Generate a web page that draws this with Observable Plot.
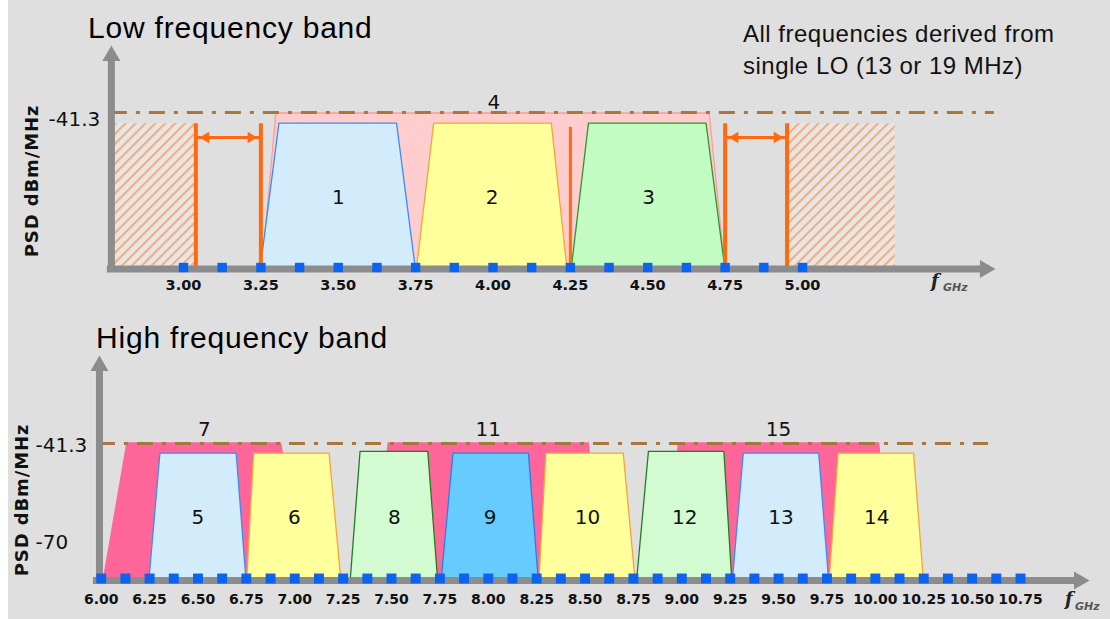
<!DOCTYPE html>
<html>
<head>
<meta charset="utf-8">
<script src="https://cdn.jsdelivr.net/npm/d3@7"></script>
<script src="https://cdn.jsdelivr.net/npm/@observablehq/plot@0.6"></script>
<style>
  html, body { margin: 0; padding: 0; background: #ffffff; }
  #wrap { position: relative; width: 1110px; height: 619px; overflow: hidden; background: #ffffff; }
  #bg { position: absolute; left: 8px; top: 0; width: 1102px; height: 619px; background: #dfdfdf; }
  .panel { position: absolute; left: 0; }
  .title { position: absolute; font-family: "Liberation Sans", Arial, sans-serif; font-size: 30px; line-height: 30px; letter-spacing: 0.8px; color: #000; white-space: nowrap; }
  .note { position: absolute; font-family: "Liberation Sans", Arial, sans-serif; font-size: 24px; line-height: 32px; letter-spacing: 0.5px; color: #111; white-space: nowrap; }
  .ylab { position: absolute; width: 170px; height: 20px; line-height: 20px; text-align: center; font-family: "DejaVu Sans", sans-serif; font-weight: bold; font-size: 18px; letter-spacing: 0.9px; color: #111; transform: rotate(-90deg); transform-origin: 50% 50%; white-space: nowrap; }
  .fsym { position: absolute; font-family: "DejaVu Serif", serif; font-style: italic; font-weight: bold; font-size: 18px; line-height: 18px; color: #222; }
  .fsub { position: absolute; font-family: "DejaVu Sans", sans-serif; font-style: italic; font-weight: bold; font-size: 11px; line-height: 11px; color: #555; }
</style>
</head>
<body>
<svg width="0" height="0" style="position:absolute">
  <defs>
    <pattern id="hatch" patternUnits="userSpaceOnUse" width="7" height="7" patternTransform="rotate(45)">
      <rect width="7" height="7" fill="#e8e6e4"></rect>
      <line x1="1" y1="0" x2="1" y2="7" stroke="#f0ae82" stroke-width="2.2"></line>
    </pattern>
  </defs>
</svg>
<div id="wrap">
  <div id="bg"></div>
  <div id="topPanel" class="panel" style="top:0px"></div>
  <div id="bottomPanel" class="panel" style="top:308px"></div>
  <div class="title" style="left:88px;top:12.6px">Low frequency band</div>
  <div class="title" style="left:96px;top:322.6px">High frequency band</div>
  <div class="note" style="left:743px;top:17.7px">All frequencies derived from</div>
  <div class="note" style="left:743px;top:49.7px">single LO (13 or 19 MHz)</div>
  <div class="ylab" style="left:-53px;top:171px">PSD dBm/MHz</div>
  <div class="ylab" style="left:-63px;top:490px">PSD dBm/MHz</div>
  <div class="fsym" style="left:931px;top:272px">f</div>
  <div class="fsub" style="left:943px;top:282px">GHz</div>
  <div class="fsym" style="left:1065px;top:590px">f</div>
  <div class="fsub" style="left:1075px;top:601px">GHz</div>
</div>
<script>
// ---------------- data (GHz / dBm per MHz) ----------------
const psdLimit = -41.3;

// Low frequency band
const lowTicks = [3.00, 3.25, 3.50, 3.75, 4.00, 4.25, 4.50, 4.75, 5.00];
const lowMarkers = [3.000, 3.125, 3.250, 3.375, 3.500, 3.625, 3.750, 3.875, 4.000,
                    4.125, 4.250, 4.375, 4.500, 4.625, 4.750, 4.875, 5.000];
const lowChannels = ["1", "2", "3"];
// bottom-left, top-left, top-right, bottom-right
const lowChannelEdges = [[3.25, 3.31, 3.69, 3.75], [3.755, 3.81, 4.19, 4.24], [4.255, 4.31, 4.69, 4.75]];
const lowChannelTop = [-44.6, -44.6, -44.6];
const lowGroups = ["4"];
const lowGroupEdges = [[3.255, 3.30, 4.70, 4.75]];
const lowGroupTop = [-41.6];
const lowGuardLines = [3.04, 3.25, 4.75, 4.95];
const lowSplitLines = [4.25];
const lowForbidden = [[2.775, 3.04], [4.955, 5.30]];
const lowGapArrows = [[3.04, 3.25], [4.75, 4.95]];

// High frequency band
const highTicks = [6.00, 6.25, 6.50, 6.75, 7.00, 7.25, 7.50, 7.75, 8.00, 8.25,
                   8.50, 8.75, 9.00, 9.25, 9.50, 9.75, 10.00, 10.25, 10.50, 10.75];
const highMarkers = [6.000, 6.125, 6.250, 6.375, 6.500, 6.625, 6.750, 6.875, 7.000, 7.125,
                     7.250, 7.375, 7.500, 7.625, 7.750, 7.875, 8.000, 8.125, 8.250, 8.375,
                     8.500, 8.625, 8.750, 8.875, 9.000, 9.125, 9.250, 9.375, 9.500, 9.625,
                     9.750, 9.875, 10.000, 10.125, 10.250, 10.375, 10.500, 10.625, 10.750];
const highChannels = ["5", "6", "8", "9", "10", "12", "13", "14"];
const highChannelEdges = [
  [6.25, 6.306, 6.70, 6.75], [6.755, 6.79, 7.18, 7.24], [7.29, 7.34, 7.69, 7.74],
  [7.76, 7.82, 8.21, 8.26], [8.265, 8.30, 8.70, 8.76], [8.77, 8.83, 9.22, 9.26],
  [9.265, 9.32, 9.71, 9.76], [9.765, 9.81, 10.20, 10.25]
];
const highChannelTop = [-44.3, -44.3, -43.8, -44.3, -44.3, -43.8, -44.3, -44.3];
const highGroups = ["7", "11", "15"];
const highGroupEdges = [[6.015, 6.135, 6.93, 7.05], [7.42, 7.485, 8.52, 8.58], [8.92, 8.985, 10.02, 10.08]];
const highGroupTop = [-41.3, -41.3, -41.3];

// ---------------- styles ----------------
const STYLE = {
  "1": ["#d3ecfb", "#3c8cf5"], "2": ["#ffff9c", "#f5a535"], "3": ["#c2fcc2", "#2a9a2a"],
  "4": ["#ffcdcd", "#ff9c9c"],
  "5": ["#d3ecfb", "#3c8cf5"], "6": ["#ffff9c", "#f5a535"], "8": ["#d2fbd2", "#1f7f1f"],
  "9": ["#66ccff", "#2a7df0"], "10": ["#ffff9c", "#f5a535"], "12": ["#d2fbd2", "#1f7f1f"],
  "13": ["#d3ecfb", "#3c8cf5"], "14": ["#ffff9c", "#f5a535"],
  "7": ["#fe6699", "#fe6699"], "11": ["#fe6699", "#fe6699"], "15": ["#fe6699", "#fe6699"]
};
const AXIS = "#8c8c8c", ORANGE = "#ff6a10", LIMIT = "#a8773f", SQUARE = "#0b63f0";

function trapezoidMarks(ids, edges, tops, floor) {
  return ids.map((id, i) => {
    const [a, b, c, d] = edges[i];
    const pts = [
      {f: a, p: floor}, {f: b, p: tops[i]}, {f: c, p: tops[i]}, {f: d, p: floor}
    ];
    return Plot.areaY(pts, {x: "f", y1: () => floor, y2: "p", fill: STYLE[id][0], stroke: STYLE[id][1], strokeWidth: 1.3});
  });
}
function mid(e) { return (e[0] + e[3]) / 2; }

function panel(P) {
  const pxX = (P.xRange[1] - P.xRange[0]) / (P.xDomain[1] - P.xDomain[0]);
  const pxY = (P.yRange[0] - P.yRange[1]) / (P.yDomain[1] - P.yDomain[0]);
  const floor = P.yDomain[0];
  const marks = [];
  if (P.forbidden) marks.push(Plot.rect(P.forbidden, {x1: d => d[0], x2: d => d[1], y1: floor, y2: P.hatchTop, fill: "url(#hatch)"}));
  marks.push(...trapezoidMarks(P.groups, P.groupEdges, P.groupTop, floor));
  marks.push(...trapezoidMarks(P.channels, P.channelEdges, P.channelTop, floor));
  if (P.guard) {
    marks.push(Plot.ruleX(P.guard, {y1: floor, y2: P.guardTop, stroke: ORANGE, strokeWidth: 4}));
    marks.push(Plot.ruleX(P.split, {y1: floor, y2: P.splitTop, stroke: ORANGE, strokeWidth: 3}));
    marks.push(Plot.ruleY(P.gaps, {x1: d => d[0], x2: d => d[1], y: P.arrowY, stroke: ORANGE, strokeWidth: 3}));
    marks.push(Plot.dot(P.gaps, {x: d => d[0], y: P.arrowY, symbol: "triangle2", r: 5.4, rotate: -90, fill: ORANGE, dx: 10}));
    marks.push(Plot.dot(P.gaps, {x: d => d[1], y: P.arrowY, symbol: "triangle2", r: 5.4, rotate: 90, fill: ORANGE, dx: -10}));
  }
  // PSD limit (dash-dot)
  marks.push(Plot.ruleY([psdLimit], {x1: P.yAxisX, x2: P.limitEnd, stroke: LIMIT, strokeWidth: 3, strokeDasharray: "16,9,4,9"}));
  // axes with arrow heads
  marks.push(Plot.ruleY([floor], {x1: P.xAxisStart, x2: P.xTip - 14 / pxX, stroke: AXIS, strokeWidth: 7, dy: P.axisDy}));
  marks.push(Plot.dot([P.xTip], {x: d => d, y: floor, symbol: "triangle2", r: 8.6, rotate: 90, fill: AXIS, dx: -13.3, dy: P.axisDy}));
  marks.push(Plot.ruleX([P.yAxisX], {y1: floor - 5 / pxY, y2: P.yTip - 14 / pxY, stroke: AXIS, strokeWidth: 7}));
  marks.push(Plot.dot([P.yTip], {x: P.yAxisX, y: d => d, symbol: "triangle2", r: 8.6, fill: AXIS, dy: 13.3}));
  // channel raster markers
  marks.push(Plot.dot(P.markers, {x: d => d, y: floor, symbol: "square", r: P.squareR, fill: SQUARE}));
  // labels
  marks.push(Plot.text(P.channels, {x: (d, i) => mid(P.channelEdges[i]), y: (d, i) => (P.channelTop[i] + floor) / 2, text: d => d,
    fontSize: 20, fontFamily: "DejaVu Sans", fill: "#111", dy: 2}));
  marks.push(Plot.text(P.groups, {x: (d, i) => mid(P.groupEdges[i]), y: psdLimit, text: d => d,
    fontSize: 20, fontFamily: "DejaVu Sans", fill: "#111", dy: P.groupDy}));
  // axes
  marks.push(Plot.axisX({ticks: P.ticks, tickSize: 0, tickPadding: P.tickPad, tickFormat: d => d.toFixed(2), label: null,
    fontSize: P.tickFont, fontWeight: "bold", fontFamily: "DejaVu Sans", fill: "#111"}));
  marks.push(Plot.axisY({ticks: P.yTicks, tickSize: 0, tickPadding: 0, textAnchor: "start", dx: P.yLabelDx, dy: P.yLabelDy,
    tickFormat: d => String(d), fontSize: 20, fontFamily: "DejaVu Sans", fill: "#111", label: null}));

  return Plot.plot({
    width: 1110, height: P.height,
    marginTop: 0, marginRight: 0, marginLeft: P.marginLeft, marginBottom: P.marginBottom,
    x: {domain: P.xDomain, range: P.xRange, label: null},
    y: {domain: P.yDomain, range: P.yRange, label: null},
    style: {background: "transparent", overflow: "visible"},
    marks
  });
}

const lowPlot = panel({
  height: 308, marginLeft: 111, marginBottom: 308 - 268,
  xDomain: [3, 5], xRange: [183, 802],
  yDomain: [-87.2, psdLimit], yRange: [267, 112],
  ticks: lowTicks, tickPad: 11, tickFont: 14.5, markers: lowMarkers, squareR: 5.3,
  yTicks: [psdLimit], yLabelDx: 48 - 111, yLabelDy: 7,
  channels: lowChannels, channelEdges: lowChannelEdges, channelTop: lowChannelTop,
  groups: lowGroups, groupEdges: lowGroupEdges, groupTop: lowGroupTop, groupDy: -10,
  forbidden: lowForbidden, hatchTop: -44.6,
  guard: lowGuardLines, guardTop: -44.6, split: lowSplitLines, splitTop: -45.7,
  gaps: lowGapArrows, arrowY: -48.7,
  yAxisX: 2.767, xAxisStart: 2.754, xTip: 5.633, yTip: -20.6, limitEnd: 5.62, axisDy: 1.5
});
document.getElementById("topPanel").append(lowPlot);

const highPlot = panel({
  height: 311, marginLeft: 99, marginBottom: 311 - 271,
  xDomain: [6, 10.75], xRange: [100.7, 1020],
  yDomain: [-81.2, psdLimit], yRange: [270, 135],
  ticks: highTicks, tickPad: 15, tickFont: 14, markers: highMarkers, squareR: 5.6,
  yTicks: [psdLimit, -70], yLabelDx: 35 - 99, yLabelDy: 2,
  channels: highChannels, channelEdges: highChannelEdges, channelTop: highChannelTop,
  groups: highGroups, groupEdges: highGroupEdges, groupTop: highGroupTop, groupDy: -14,
  yAxisX: 5.991, xAxisStart: 5.96, xTip: 11.122, yTip: -14.4, limitEnd: 10.585, axisDy: 2
});
document.getElementById("bottomPanel").append(highPlot);
</script>
</body>
</html>
